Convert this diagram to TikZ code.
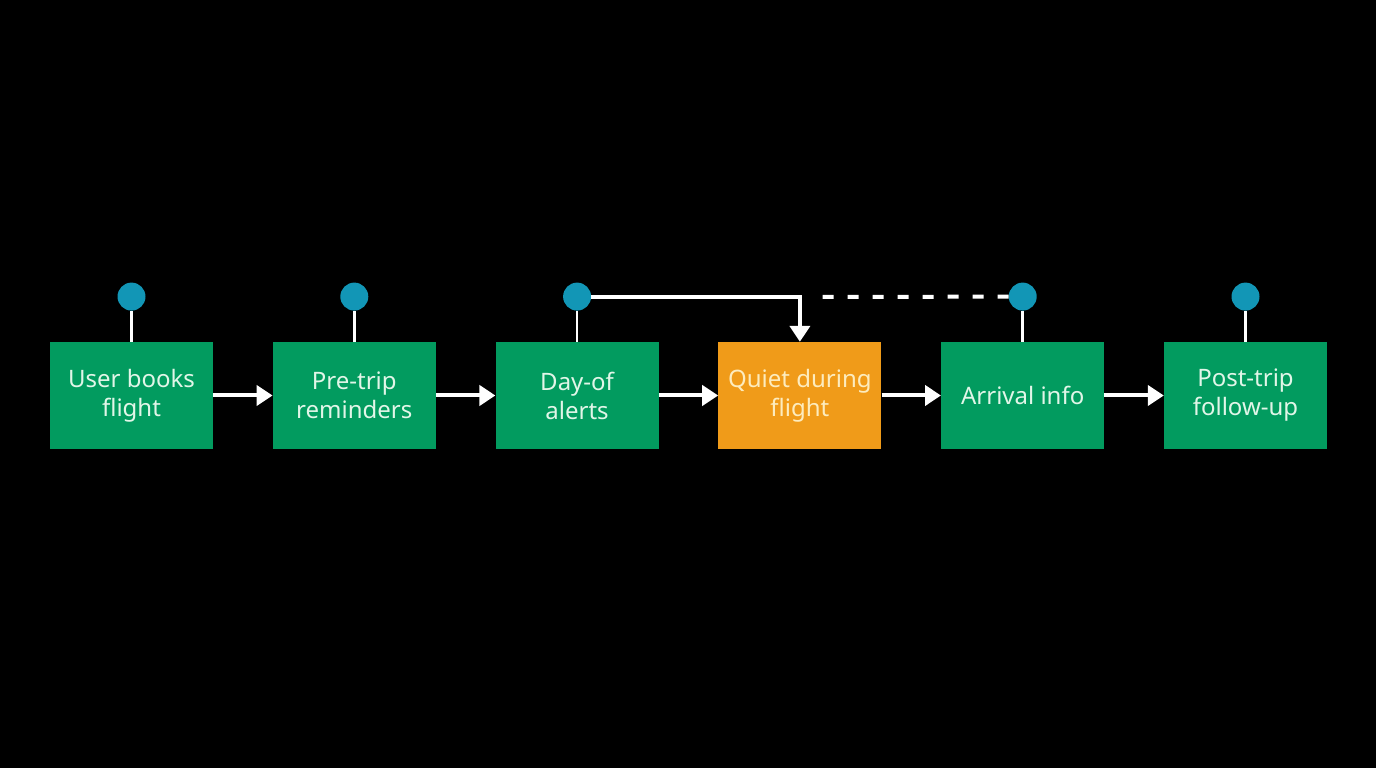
\documentclass[tikz,border=0pt]{standalone}
\usepackage{fontspec}
\setmainfont{Noto Sans}
\usetikzlibrary{arrows.meta,positioning}
\definecolor{stepgreen}{RGB}{2,155,95}
\definecolor{steporange}{RGB}{240,155,25}
\definecolor{pin}{RGB}{18,150,182}
\definecolor{greentext}{RGB}{225,246,232}
\definecolor{orangetext}{RGB}{253,236,190}

\begin{document}
\begin{tikzpicture}[
  x=1pt, y=1pt,
  node distance=59.4pt,
  stage/.style={minimum width=163pt, minimum height=107pt, inner sep=0pt,
    font=\fontsize{24}{29}\selectfont, align=center, text=greentext,
    fill=stepgreen},
  quiet/.style={fill=steporange, text=orangetext},
  pinhead/.style={circle, fill=pin, minimum size=28pt, inner sep=0pt},
  stem/.style={draw=white, line width=2.5pt},
  arrow/.style={-{Triangle[length=16pt, width=20pt]}, draw=white, line width=4pt}
]
\fill[black] (0,0) rectangle (1376,768);
\useasboundingbox (0,0) rectangle (1376,768);

\node[stage] (book) at (131.5,372.5) {User books\\flight};
\node[stage, right=of book] (remind) {Pre-trip\\reminders};
\node[stage, right=of remind] (dayof) {Day-of\\alerts};
\node[stage, quiet, right=of dayof] (flight) {Quiet during\\flight};
\node[stage, right=of flight] (arrive) {Arrival info};
\node[stage, right=of arrive] (follow) {Post-trip\\follow-up};

\node[pinhead, above=31pt of book] (pbook) {};
\node[pinhead, above=31pt of remind] (premind) {};
\node[pinhead, above=31pt of dayof] (pdayof) {};
\node[pinhead, above=31pt of arrive] (parrive) {};
\node[pinhead, above=31pt of follow] (pfollow) {};
\coordinate (dashend) at (819,471);

\draw[stem] (pbook) -- (book);
\draw[stem] (premind) -- (remind);
\draw[stem] (pdayof) -- (dayof);
\draw[stem] (parrive) -- (arrive);
\draw[stem] (pfollow) -- (follow);

\draw[arrow] (book) -- (remind);
\draw[arrow] (remind) -- (dayof);
\draw[arrow] (dayof) -- (flight);
\draw[arrow] (flight) -- (arrive);
\draw[arrow] (arrive) -- (follow);
\draw[arrow] (pdayof.east) -| (flight.north);
\draw[draw=white, line width=4pt, dash pattern=on 11pt off 14pt] (parrive.west) -- (dashend);
\end{tikzpicture}
\end{document}
